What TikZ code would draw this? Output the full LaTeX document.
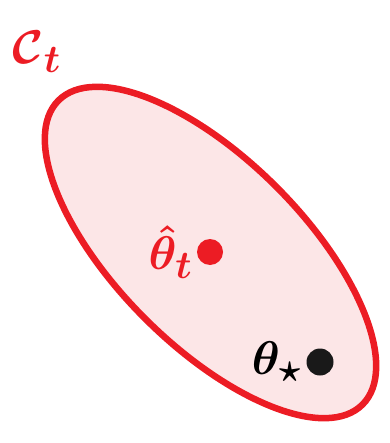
\documentclass[tikz,border=0pt]{standalone}
\usepackage{amsmath,amssymb,bm}
\usepackage{graphicx}
\usepackage{tikz}
\usetikzlibrary{positioning}
\definecolor{setred}{HTML}{EC1C24}
\definecolor{setfill}{HTML}{FCE6E7}
\newcommand{\bigsym}[1]{\scalebox{1.9}{$#1$}}

\begin{document}
\begin{tikzpicture}[
  x=1pt, y=-1pt,
  every node/.style={font=\Huge},
  dot/.style={circle, inner sep=0pt, minimum size=#1},
  lbl/.style={inner sep=0pt},
]
\useasboundingbox (0,0) rectangle (389,443);

% confidence set
\draw[setred, line width=6.5pt, fill=setfill, rotate around={-45:(210.5,252.5)}]
  (210.5,252.5) ellipse (215 and 93);

\node[lbl, setred] (cset) at (37,52) {\bigsym{\bm{\mathcal{C}_t}}};

\node[dot=26, fill=setred] (thetahat) at (210,252) {};
\node[lbl, setred, left=4pt of thetahat] (thetahatlbl) {\bigsym{\bm{\hat\theta_t}}};

\node[dot=27, fill=black!90] (thetastar) at (320,362) {};
\node[lbl, left=4pt of thetastar] (thetastarlbl) {\bigsym{\bm{\theta_\star}}};

\end{tikzpicture}
\end{document}
